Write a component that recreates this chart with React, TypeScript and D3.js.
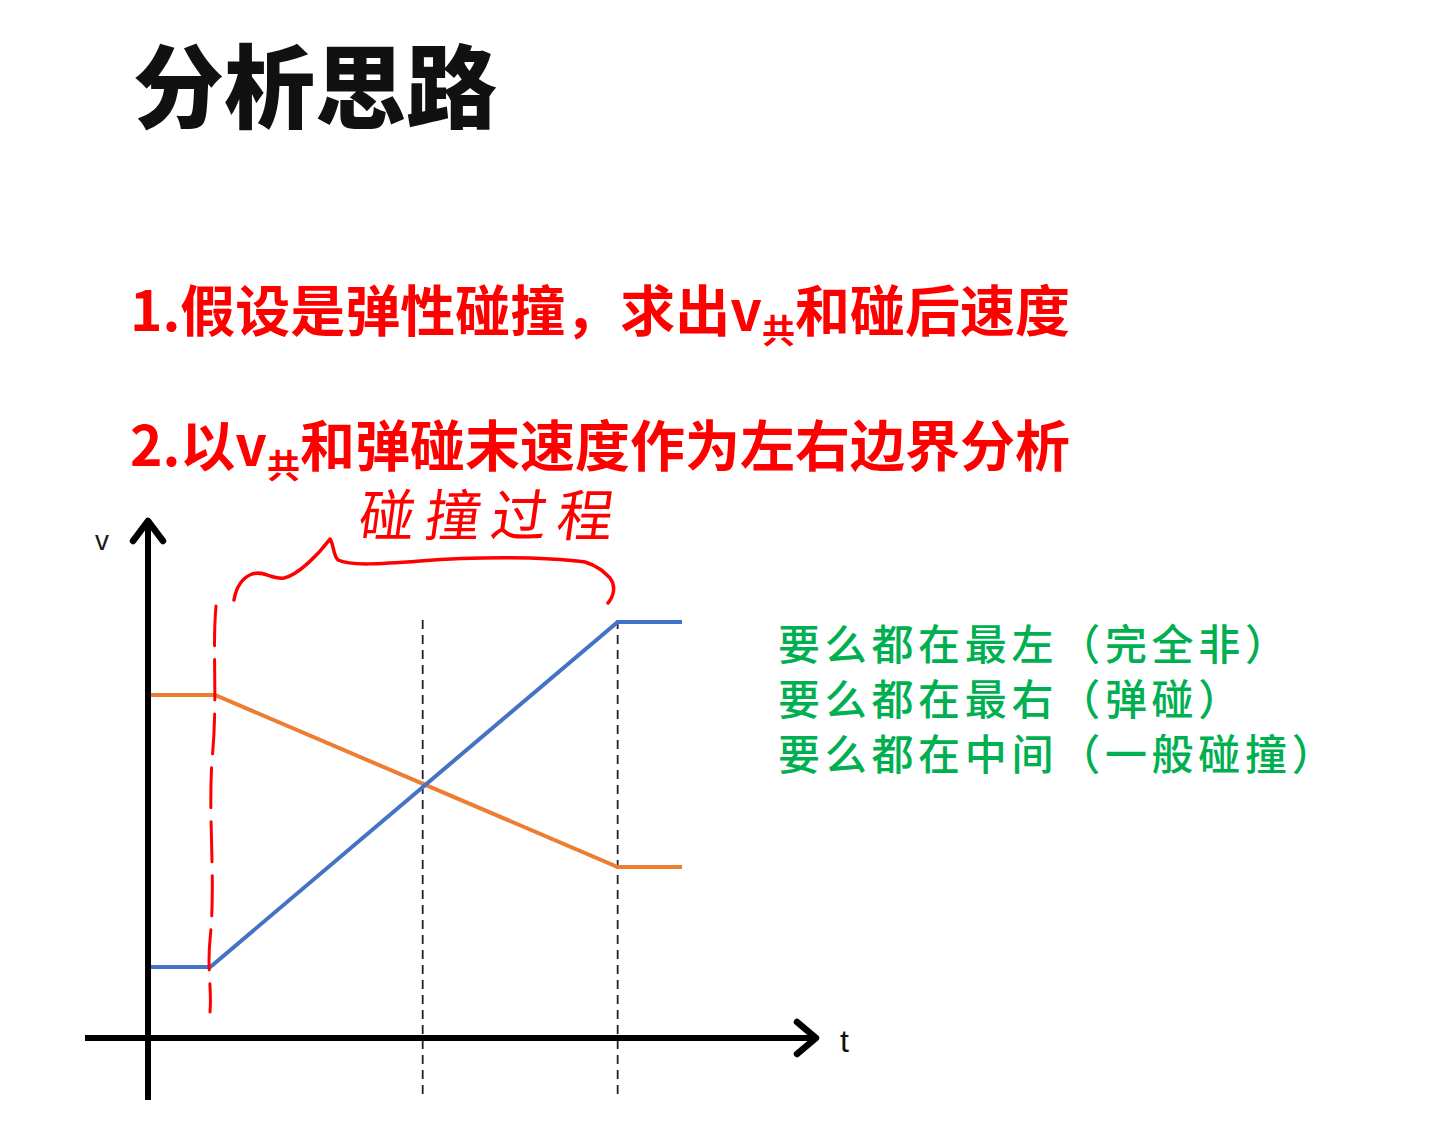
import React from "react";
import * as d3 from "d3";

const title = "分析思路";
const line1Parts = ["1.假设是弹性碰撞，求出", "v", "共", "和碰后速度"];
const line2Parts = ["2.以", "v", "共", "和弹碰末速度作为左右边界分析"];
const greenLines = ["要么都在最左（完全非）", "要么都在最右（弹碰）", "要么都在中间（一般碰撞）"];
const annotation = "碰撞过程";

// time points and velocities of the two bodies
const blueT = [0, 0.93, 7.01, 7.97];
const blueV = [1.42, 1.42, 8.32, 8.32];
const orangeT = [0, 1.0, 7.01, 7.97];
const orangeV = [6.86, 6.86, 3.42, 3.42];
const markerT = [4.1, 7.01];

const W = 1451, H = 1128;
const x = d3.scaleLinear().domain([0, 10]).range([148, 818]);
const y = d3.scaleLinear().domain([0, 10]).range([1038, 538]);

const line = d3.line<[number, number]>().x(d => x(d[0])).y(d => y(d[1]));

const bluePts: [number, number][] = blueT.map((t, i) => [t, blueV[i]]);
const orangePts: [number, number][] = orangeT.map((t, i) => [t, orangeV[i]]);

const braceD =
  "M234,600 C236,588 242,578 252,574 C264,570 272,580 284,578 C298,575 318,555 330,539 C334,545 333,555 338,560 C350,566 380,564 420,561 C470,557 540,556 585,562 C598,566 604,572 610,578 C616,586 614,596 608,603";

const handDash = "M216,606 C212,650 218,700 212,760 C208,820 216,880 210,940 C207,970 212,990 210,1012";

export default function App() {
  const cjk = "'Noto Sans CJK SC', 'Noto Sans', sans-serif";
  return (
    <svg width={W} height={H} style={{ position: "absolute", left: 0, top: 0, background: "#fff" }}>
      <rect width={W} height={H} fill="#fff" />
      <text x={133} y={121} fontFamily={cjk} fontWeight={900} fontSize={91} fill="#111">{title}</text>

      <text x={130} y={331} fontFamily={cjk} fontWeight={700} fontSize={55} fill="#FF0000">
        <tspan>{line1Parts[0]}</tspan>
        <tspan>{line1Parts[1]}</tspan>
        <tspan fontSize={33} dy={12}>{line1Parts[2]}</tspan>
        <tspan dy={-12}>{line1Parts[3]}</tspan>
      </text>
      <text x={130} y={466} fontFamily={cjk} fontWeight={700} fontSize={55} fill="#FF0000">
        <tspan>{line2Parts[0]}</tspan>
        <tspan>{line2Parts[1]}</tspan>
        <tspan fontSize={33} dy={12}>{line2Parts[2]}</tspan>
        <tspan dy={-12}>{line2Parts[3]}</tspan>
      </text>

      {greenLines.map((s, i) => (
        <text key={i} x={778} y={660 + i * 55} fontFamily={cjk} fontWeight={500} fontSize={42} letterSpacing={4.7} fill="#00B050">{s}</text>
      ))}

      {/* dashed markers */}
      {markerT.map((t, i) => (
        <line key={i} x1={x(t)} x2={x(t)} y1={620} y2={1100} stroke="#222" strokeWidth={1.8} strokeDasharray="9 6" />
      ))}

      {/* series */}
      <path d={line(orangePts) || ""} fill="none" stroke="#ED7D31" strokeWidth={4} />
      <path d={line(bluePts) || ""} fill="none" stroke="#4472C4" strokeWidth={4} />

      {/* axes */}
      <line x1={x(0)} x2={x(0)} y1={1100} y2={521} stroke="#000" strokeWidth={6} />
      <polyline points={`${x(0) - 15},${541} ${x(0)},${521} ${x(0) + 15},${541}`} fill="none" stroke="#000" strokeWidth={6.5} strokeLinecap="round" strokeLinejoin="round" />
      <line x1={85} x2={815} y1={y(0)} y2={y(0)} stroke="#000" strokeWidth={6} />
      <polyline points={`${797},${y(0) - 16} ${816},${y(0)} ${797},${y(0) + 16}`} fill="none" stroke="#000" strokeWidth={6.5} strokeLinecap="round" strokeLinejoin="round" />
      <text x={95} y={550} fontFamily="'Liberation Sans', Arial, sans-serif" fontSize={28} fill="#1a1a1a">v</text>
      <text x={840} y={1052} fontFamily="'Liberation Sans', Arial, sans-serif" fontSize={32} fill="#111">t</text>

      {/* handwritten annotation */}
      <path d={handDash} fill="none" stroke="#FF0000" strokeWidth={3} strokeDasharray="40 14" strokeLinecap="round" />
      <path d={braceD} fill="none" stroke="#FF0000" strokeWidth={3.5} strokeLinecap="round" strokeLinejoin="round" />
      <text x={360} y={536} fontFamily={cjk} fontWeight={400} fontSize={56} letterSpacing={10} fill="#FF0000" transform="skewX(-8) translate(72,0)">{annotation}</text>
    </svg>
  );
}
